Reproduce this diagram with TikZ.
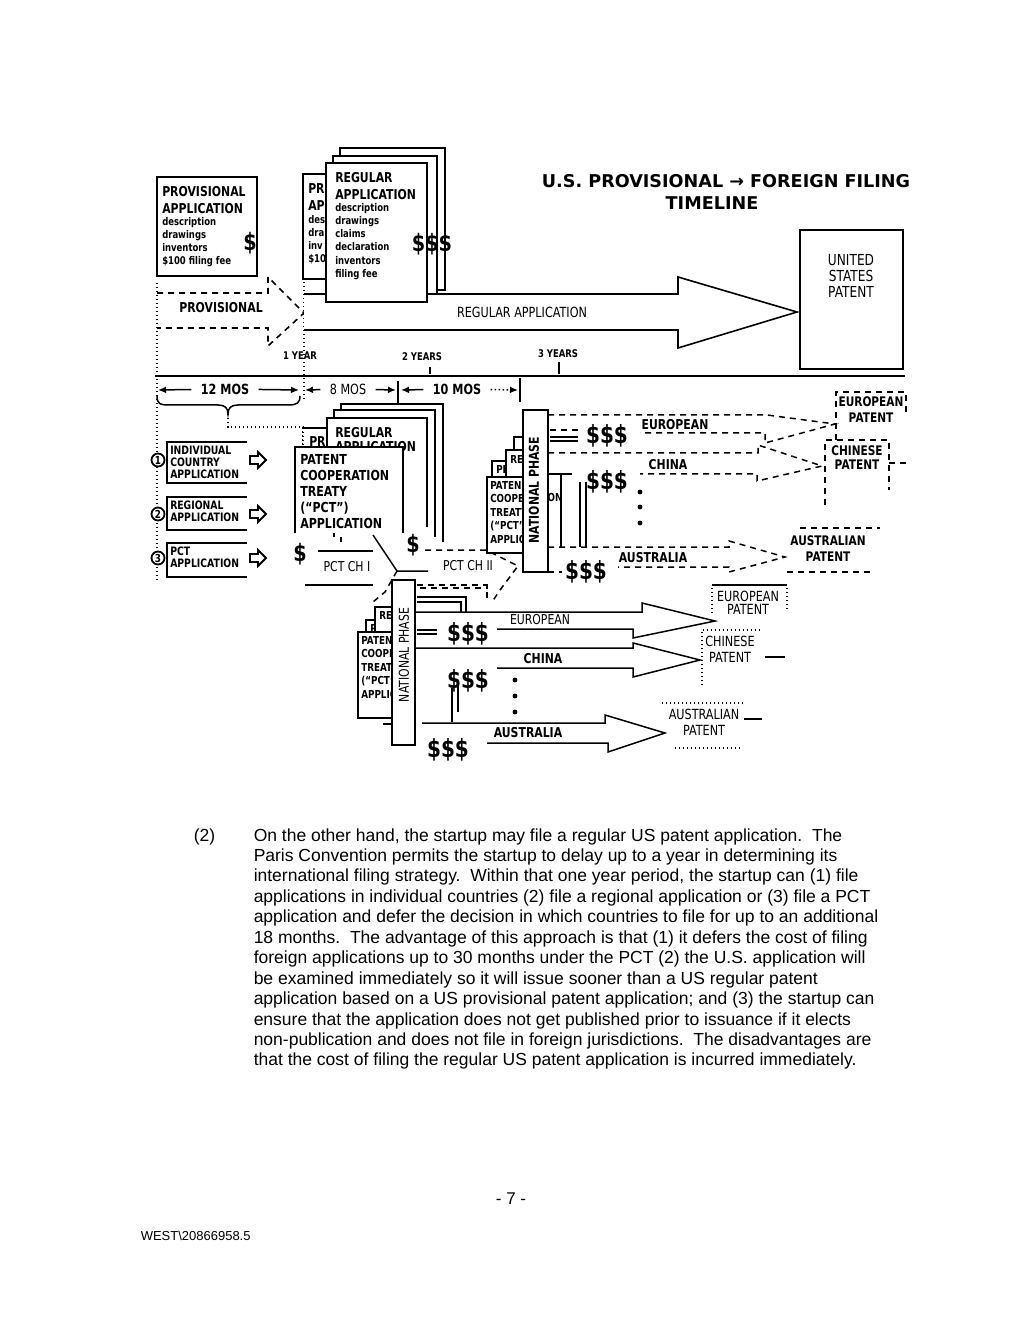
\documentclass[tikz,border=0pt]{standalone}
\usepackage{fontspec}
\setmainfont{Liberation Sans}
\newfontfamily\dgfont[FakeStretch=0.8]{DejaVu Sans}
\newfontfamily\ttlfont{DejaVu Sans}
\usetikzlibrary{arrows.meta}

\tikzset{
  hd/.style={inner sep=0.75pt,align=left,font=\dgfont\bfseries\fontsize{6.8}{8.5}\selectfont},
  sml/.style={inner sep=0.75pt,align=left,font=\dgfont\bfseries\fontsize{5.3}{6.6}\selectfont},
  lbl/.style={inner sep=0.75pt,align=center,font=\dgfont\bfseries\fontsize{6.8}{8}\selectfont},
  lite/.style={inner sep=0.75pt,align=center,font=\dgfont\fontsize{7}{8.2}\selectfont},
  yrs/.style={inner sep=0.75pt,font=\dgfont\bfseries\fontsize{5.3}{6}\selectfont},
  opt/.style={inner sep=0.75pt,align=left,font=\dgfont\bfseries\fontsize{5.8}{6}\selectfont},
  mini/.style={inner sep=0.75pt,align=left,font=\dgfont\bfseries\fontsize{5.5}{6.75}\selectfont},
  cash/.style={inner sep=0pt,font=\dgfont\bfseries\fontsize{12}{13}\selectfont},
  mos/.style={inner sep=0.75pt,outer sep=4pt,font=\dgfont\bfseries\fontsize{7}{8}\selectfont},
  numc/.style={circle,draw,line width=0.9pt,fill=white,inner sep=0pt,minimum size=6.5pt,font=\dgfont\bfseries\fontsize{5.5}{6}\selectfont},
  ttl/.style={inner sep=0.75pt,font=\ttlfont\bfseries\fontsize{8.8}{10}\selectfont},
  sheet/.style={draw,fill=white,line width=0.8pt},
  dsh/.style={dash pattern=on 3pt off 2.5pt},
  dotln/.style={dash pattern=on 0.7pt off 1.3pt},
  tip/.style={-{Latex[length=4pt,width=3.4pt]}},
  txt/.style={anchor=base west,inner sep=0pt,font=\fontsize{8.75}{10}\selectfont},
}

\begin{document}
\begin{tikzpicture}[x=0.5pt,y=0.5pt,yscale=-1,line width=0.75pt]
\useasboundingbox (0,0) rectangle (1024,1325);
\fill[white] (0,0) rectangle (1024,1325);

%Shape: Rectangle -- provisional application
\draw[sheet] (157,177) rectangle (257,276);
% Text Node
\draw (160,184) node (provhead) [anchor=north west,hd] {PROVISIONAL\\APPLICATION};
% Text Node
\draw (160,215) node (provlist) [anchor=north west,sml] {description\\drawings\\inventors\\\$100 filing fee};
% Text Node
\draw (250,243) node (provfee) [cash] {\$};

%Shape: dashed arrow -- provisional
\draw[dsh,line width=0.8pt] (157,293) -- (268,293) -- (268,277) -- (304,313) -- (268,346) -- (268,328) -- (157,328);
% Text Node
\draw (221,308) node (provarrow) [lbl] {PROVISIONAL};

%Straight Lines -- year lines
\draw[dotln] (157,283) -- (157,580);
\draw[dotln] (304,278) -- (304,400);

%Shape: back sheets of the regular application
\draw[sheet] (340,148) rectangle (445,290);
\draw[sheet] (333,156) rectangle (437,294);

%Shape: Arrow -- regular application
\draw[fill=white,line width=0.8pt] (304,294) -- (678,294) -- (678,277) -- (797,312) -- (678,348) -- (678,330) -- (304,330);
% Text Node
\draw (522,312) node (regarrow) [lbl,font=\dgfont\fontsize{7}{8}\selectfont] {REGULAR APPLICATION};

%Shape: copy of the provisional sheet, seen left of the regular one
\draw[sheet] (303,174) rectangle (400,279);
\begin{scope}
\clip (303,174) rectangle (326,279);
\draw (306,181) node (provcopy) [anchor=north west,hd] {PR\\AP};
\draw (306,213) node (provcopylist) [anchor=north west,sml] {des\\dra\\inv\\\$10};
\end{scope}

%Shape: Rectangle -- regular application
\draw[sheet] (326,163) rectangle (427,302);
% Text Node
\draw (333,170) node (reghead) [anchor=north west,hd] {REGULAR\\APPLICATION};
% Text Node
\draw (333,201) node (reglist) [anchor=north west,sml] {description\\drawings\\claims\\declaration\\inventors\\filing fee};
% Text Node
\draw (432,244) node (regfee) [cash] {\$\$\$};

% Text Node -- title
\draw (726,181) node (title1) [ttl] {U.S. PROVISIONAL → FOREIGN FILING};
\draw (712,203) node (title2) [ttl] {TIMELINE};

%Shape: Rectangle -- united states patent
\draw[line width=0.9pt] (800,230) rectangle (903,369);
\draw (851,276) node (uspat) [lite,font=\dgfont\fontsize{7.6}{8}\selectfont] {UNITED\\STATES\\PATENT};

%Straight Lines -- timeline
\draw[line width=1.2pt] (155,376) -- (905,376);
\draw (300,356) node (yr1) [yrs] {1 YEAR};
\draw (422,357) node (yr2) [yrs] {2 YEARS};
\draw (558,354) node (yr3) [yrs] {3 YEARS};
\draw (430,367) -- (430,374);
\draw (559,362) -- (559,374);

% months
\coordinate (t0) at (158,390);
\coordinate (t1a) at (299,390);
\coordinate (t1b) at (305,390);
\coordinate (t2a) at (396,390);
\coordinate (t2b) at (401,390);
\coordinate (t3) at (518,390);
\draw (225,389) node (mos12) [mos] {12 MOS};
\draw (348,389) node (mos8) [mos,font=\dgfont\fontsize{7}{8}\selectfont] {8 MOS};
\draw (457,389) node (mos10) [mos] {10 MOS};
\draw[tip] (mos12) -- (t0);
\draw[tip] (mos12) -- (t1a);
\draw[tip] (mos8) -- (t1b);
\draw[tip] (mos8) -- (t2a);
\draw[tip] (mos10) -- (t2b);
\draw[tip,dotln] (mos10) -- (t3);
\draw (398,381) -- (398,404);
\draw (520,378) -- (520,402);

%Shape: brace under 12 months
\draw (157,396) .. controls (157,404) and (160,405) .. (170,405) -- (218,405) .. controls (225,405) and (228,408) .. (228,414) .. controls (228,408) and (231,405) .. (238,405) -- (288,405) .. controls (297,405) and (300,403) .. (300,396);
\draw[dotln,line width=1pt] (228,414) -- (228,427) -- (303,427) -- (303,447);

% options 1 2 3
\draw (247,442) -- (167,442) -- (167,483) -- (247,483);
\draw (168,444) node (indiv) [anchor=north west,opt] {INDIVIDUAL\\COUNTRY\\APPLICATION};
\draw (247,497) -- (167,497) -- (167,530) -- (247,530);
\draw (168,499) node (region) [anchor=north west,opt] {REGIONAL\\APPLICATION};
\draw (247,543) -- (167,543) -- (167,577) -- (247,577);
\draw (168,545) node (pctopt) [anchor=north west,opt] {PCT\\APPLICATION};
\draw (158,460) node (opt1) [numc] {1};
\draw (158,514) node (opt2) [numc] {2};
\draw (158,558) node (opt3) [numc] {3};
\draw[line width=0.9pt] (250,456) -- (258,456) -- (258,452) -- (266,460) -- (258,468) -- (258,464) -- (250,464) -- cycle;
\draw[line width=0.9pt] (250,510) -- (258,510) -- (258,506) -- (266,514) -- (258,522) -- (258,518) -- (250,518) -- cycle;
\draw[line width=0.9pt] (250,554) -- (258,554) -- (258,550) -- (266,558) -- (258,566) -- (258,562) -- (250,562) -- cycle;

%Shape: PCT stack
\fill[white] (341,404) rectangle (443,542);
\draw[line width=0.8pt] (341,542) -- (341,404) -- (443,404) -- (443,542);
\fill[white] (334,410) rectangle (435,537);
\draw[line width=0.8pt] (334,537) -- (334,410) -- (435,410) -- (435,537);
\fill[white] (303,428) rectangle (395,520);
\draw[line width=0.8pt] (395,428) -- (303,428);
\draw[dotln,line width=0.9pt] (303,428) -- (303,520);
\draw (307,434) node (pctprov) [anchor=north west,hd] {PR};
\fill[white] (327,418) rectangle (427,527);
\draw[line width=0.8pt] (327,527) -- (327,418) -- (427,418) -- (427,527);
\draw (333,425) node (pctreg) [anchor=north west,hd] {REGULAR};
\begin{scope}
\clip (327,418) rectangle (427,447) (403,447) rectangle (427,460);
\draw (333,439) node (pctregb) [anchor=north west,hd] {APPLICATION};
\end{scope}
\fill[white] (295,447) rectangle (403,533);
\draw[line width=0.8pt] (295,533) -- (295,447) -- (403,447) -- (403,533);
\draw (298,452) node (pctapp) [anchor=north west,hd,font=\dgfont\bfseries\fontsize{6.9}{8}\selectfont] {PATENT\\COOPERATION\\TREATY\\(“PCT”)\\APPLICATION};
\draw (413,545) node (pctfee) [cash] {\$};
\draw (300,554) node (ch1fee) [cash] {\$};

% PCT CH I
\draw (318,551) -- (373,551);
\draw (305,585) -- (373,585);
\draw (373,535) -- (397,571) -- (428,571);
\draw[dsh] (397,571) -- (385,592) -- (373,602);
\draw (347,567) node (ch1) [lbl,font=\dgfont\fontsize{6.8}{8}\selectfont] {PCT CH I};

% PCT CH II
\draw[dsh] (425,550) -- (486,550) -- (518,566) -- (500,590) -- (492,602);
\draw[dsh] (398,588) -- (488,588);
\draw (468,566) node (ch2) [lbl,font=\dgfont\fontsize{6.8}{8}\selectfont] {PCT CH II};

%Shape: national phase sheets (middle)
\begin{scope}
\clip (480,430) rectangle (523,562);
\draw[sheet] (514,437) rectangle (540,520);
\draw[sheet] (492,461) rectangle (540,540);
\draw (494,463) node (np1prov) [anchor=north west,mini] {PR};
\draw[sheet] (506,450) rectangle (540,530);
\draw (508,453) node (np1reg) [anchor=north west,mini] {RE};
\draw[fill=white] (540,477) -- (487,477) -- (487,553) -- (540,553);
\draw (488,479) node (np1pct) [anchor=north west,mini] {PATEN\\COOPE\\TREATY\\(“PCT”\\APPLIC};
\end{scope}
\draw (548,474) -- (572,474);
\draw (561,474) -- (561,547);
\draw (580,482) -- (580,547);
\draw (586,482) -- (586,547);
\draw (555,497) node (np1on) [mini,inner sep=0pt] {ON};
\draw (550,437) -- (578,437);
\draw (550,441) -- (578,441);
\draw[dsh] (550,430) -- (578,430);
\draw[sheet] (523,410) rectangle (548,572);
\draw (534,490) node (natl1) [lbl,rotate=90] {NATIONAL PHASE};

%Shape: middle foreign arrows (dashed)
\draw[dsh] (548,415) -- (767,415) -- (835,424) -- (765,443) -- (765,433) -- (640,433);
\draw[dsh] (548,453) -- (758,453) -- (758,445) -- (822,466) -- (757,481) -- (757,474) -- (640,474);
\draw[dsh] (548,547) -- (729,547) -- (729,541) -- (785,557) -- (729,572) -- (729,567) -- (618,567);
\draw[dsh] (548,572) -- (562,572);
\draw (675,425) node (eur1) [lbl] {EUROPEAN};
\draw (668,465) node (chn1) [lbl] {CHINA};
\draw (653,558) node (aus1) [lbl] {AUSTRALIA};
\draw (607,436) node (eurfee1) [cash,font=\dgfont\bfseries\fontsize{12.5}{13}\selectfont] {\$\$\$};
\draw (607,482) node (chnfee1) [cash,font=\dgfont\bfseries\fontsize{12.5}{13}\selectfont] {\$\$\$};
\draw (586,572) node (ausfee1) [cash,font=\dgfont\bfseries\fontsize{12.5}{13}\selectfont] {\$\$\$};
\fill (640,492) circle (2.4);
\fill (640,507) circle (2.4);
\fill (640,523) circle (2.4);

%Shape: middle patent boxes (dashed)
\draw[dsh] (906,412) -- (906,392) -- (836,392) -- (836,440);
\draw (871,402) node (eurpat1) [lbl,font=\dgfont\bfseries\fontsize{6.6}{8}\selectfont] {EUROPEAN};
\draw (871,418) node (eurpat1b) [lbl,font=\dgfont\bfseries\fontsize{6.6}{8}\selectfont] {PATENT};
\draw[dsh] (825,505) -- (825,440) -- (889,440) -- (889,490);
\draw[dsh] (889,463) -- (908,463);
\draw (857,451) node (chnpat1) [lbl,font=\dgfont\bfseries\fontsize{6.6}{8}\selectfont] {CHINESE};
\draw (857,465) node (chnpat1b) [lbl,font=\dgfont\bfseries\fontsize{6.6}{8}\selectfont] {PATENT};
\draw[dsh] (800,528) -- (880,528);
\draw[dsh] (787,572) -- (870,572);
\draw (828,541) node (auspat1) [lbl,font=\dgfont\bfseries\fontsize{6.6}{8}\selectfont] {AUSTRALIAN};
\draw (828,557) node (auspat1b) [lbl,font=\dgfont\bfseries\fontsize{6.6}{8}\selectfont] {PATENT};

%Shape: national phase sheets (bottom)
\draw[dsh] (417,585) -- (487,585) -- (487,602);
\draw (417,597) -- (466,597) -- (466,612);
\draw (417,602) -- (461,602) -- (461,612);
\begin{scope}
\clip (345,595) rectangle (392,725);
\draw[sheet] (366,620) rectangle (410,710);
\draw (368,622) node (np2prov) [anchor=north west,mini] {PR};
\draw[sheet] (375,607) rectangle (410,700);
\draw (377,609) node (np2reg) [anchor=north west,mini] {RE};
\draw[fill=white] (410,632) -- (358,632) -- (358,718) -- (410,718);
\draw (359,634) node (np2pct) [anchor=north west,mini] {PATENT\\COOPE\\TREATY\\(“PCT”\\APPLIC};
\end{scope}
\draw[line width=1.2pt] (383,724) -- (398,724);
\draw[sheet] (392,580) rectangle (415,745);
\draw (404,655) node (natl2) [lbl,rotate=90,font=\dgfont\fontsize{6.8}{8}\selectfont] {NATIONAL PHASE};
\draw (417,630) -- (437,630);
\draw (417,634) -- (437,634);
\draw (452,688) -- (452,722);
\draw (458,684) -- (458,712);

%Shape: bottom foreign arrows
\draw (415,612) -- (642,612) -- (642,603) -- (715,621) -- (633,638) -- (633,629) -- (497,629);
\draw (415,648) -- (633,648) -- (633,643) -- (700,660) -- (633,677) -- (633,668) -- (497,668);
\draw (422,723) -- (605,723) -- (605,715) -- (665,733) -- (608,752) -- (608,743) -- (487,743);
\draw (540,620) node (eur2) [lbl,font=\dgfont\fontsize{6.8}{8}\selectfont] {EUROPEAN};
\draw (543,659) node (chn2) [lbl] {CHINA};
\draw (528,733) node (aus2) [lbl] {AUSTRALIA};
\draw (468,634) node (eurfee2) [cash,font=\dgfont\bfseries\fontsize{12.5}{13}\selectfont] {\$\$\$};
\draw (468,681) node (chnfee2) [cash,font=\dgfont\bfseries\fontsize{12.5}{13}\selectfont] {\$\$\$};
\draw (448,750) node (ausfee2) [cash,font=\dgfont\bfseries\fontsize{12.5}{13}\selectfont] {\$\$\$};
\fill (515,680) circle (2.4);
\fill (515,696) circle (2.4);
\fill (515,712) circle (2.4);

%Shape: bottom patent boxes
\draw (712,585) -- (787,585);
\draw[dotln] (712,588) -- (712,615);
\draw[dotln] (787,588) -- (787,610);
\draw (748,603) node (eurpat2) [lite] {EUROPEAN\\[-1.5pt]PATENT};
\draw[dotln] (702,685) -- (702,630) -- (760,630);
\draw (730,649) node (chnpat2) [lite] {CHINESE\\PATENT};
\draw (765,657) -- (785,657);
\draw[dotln] (662,703) -- (745,703);
\draw (704,722) node (auspat2) [lite] {AUSTRALIAN\\PATENT};
\draw (744,719) -- (762,719);
\draw[dotln] (675,748) -- (742,748);

% Text Node -- paragraph
\draw (193,841) node (itemno) [txt] {(2)};
\draw (253,841.0) node (ln1) [txt] {On the other hand, the startup may file a regular US patent application.\ \ The};
\draw (253,861.45) node (ln2) [txt] {Paris Convention permits the startup to delay up to a year in determining its};
\draw (253,881.9) node (ln3) [txt] {international filing strategy.\ \ Within that one year period, the startup can (1) file};
\draw (253,902.35) node (ln4) [txt] {applications in individual countries (2) file a regional application or (3) file a PCT};
\draw (253,922.8) node (ln5) [txt] {application and defer the decision in which countries to file for up to an additional};
\draw (253,943.25) node (ln6) [txt] {18 months.\ \ The advantage of this approach is that (1) it defers the cost of filing};
\draw (253,963.7) node (ln7) [txt] {foreign applications up to 30 months under the PCT (2) the U.S. application will};
\draw (253,984.15) node (ln8) [txt] {be examined immediately so it will issue sooner than a US regular patent};
\draw (253,1004.6) node (ln9) [txt] {application based on a US provisional patent application; and (3) the startup can};
\draw (253,1025.05) node (ln10) [txt] {ensure that the application does not get published prior to issuance if it elects};
\draw (253,1045.5) node (ln11) [txt] {non-publication and does not file in foreign jurisdictions.\ \ The disadvantages are};
\draw (253,1065.95) node (ln12) [txt] {that the cost of filing the regular US patent application is incurred immediately.};

% Text Node -- footer
\draw (511,1204) node (pageno) [anchor=base,inner sep=0pt,font=\fontsize{8.5}{10}\selectfont] {- 7 -};
\draw (140,1240) node (docid) [anchor=base west,inner sep=0pt,font=\fontsize{6.5}{8}\selectfont] {WEST\textbackslash 20866958.5};

\end{tikzpicture}
\end{document}
